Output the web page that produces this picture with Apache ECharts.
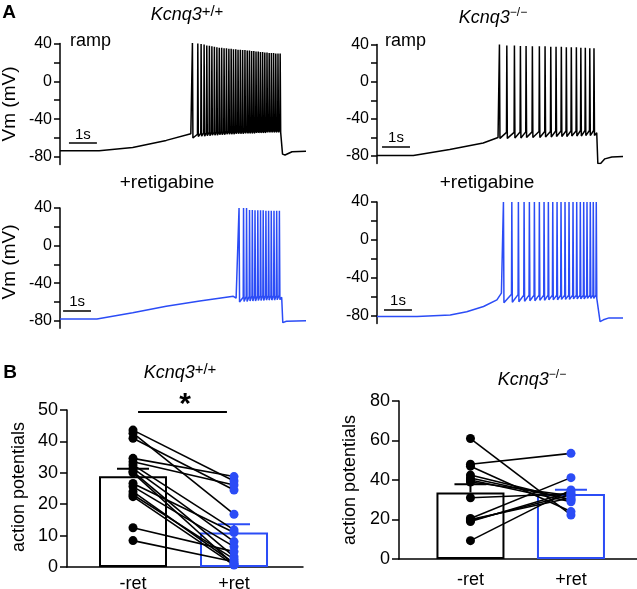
<!DOCTYPE html>
<html><head><meta charset="utf-8">
<script src="https://cdn.jsdelivr.net/npm/echarts@6/dist/echarts.min.js"></script>
<style>html,body{margin:0;padding:0;background:#fff}#c{width:637px;height:589px}</style>
</head><body><div id="c"></div><script>
// ---------- Panel A: membrane potential traces (time in s, Vm in mV) ----------
const aTicks = [-80, -60, -40, -20, 0, 20, 40];
const aLabels = [-80, -40, 0, 40];

// Kcnq3+/+ ramp (black)
const wtRampPre = [[0, -73.5], [1.4, -73.5], [2.6, -70], [3.8, -62.5], [4.68, -55.5]];
const wtRampSpikeT = [4.725, 4.918, 5.036, 5.143, 5.239, 5.332, 5.421, 5.511, 5.6, 5.686, 5.771, 5.857, 5.943, 6.029, 6.111, 6.193, 6.275, 6.357, 6.439, 6.521, 6.604, 6.686, 6.764, 6.843, 6.921, 7.0, 7.079, 7.157, 7.236, 7.314, 7.393, 7.471, 7.55, 7.629, 7.707, 7.786, 7.864];
const wtRampPeak = [40.5, 40, 39.5, 39, 38, 37.5, 37, 36.5, 36, 35.5, 35.5, 35, 35, 34.5, 34.5, 34, 34, 33.5, 33.5, 33, 33, 32.5, 32.5, 32, 32, 31.5, 31.5, 31, 31, 30.5, 30.5, 30, 30, 30, 29.5, 29.5, 29.5];
const wtRampAhp = [-60, -58.5, -58, -58, -57.5, -57.5, -57, -57, -57, -56.5, -56.5, -56.5, -56, -56, -56, -56, -55.5, -55.5, -55.5, -55.5, -55, -55, -55, -55, -55, -54.5, -54.5, -54.5, -54.5, -54.5, -54, -54, -54, -54, -54, -54, -54];
const wtRampThr = [-55.5, -56, -55, -54.5, -54.5, -54, -54, -54, -53.5, -53.5, -53.5, -53.5, -53, -53, -53, -53, -53, -52.5, -52.5, -52.5, -52.5, -52.5, -52.5, -52, -52, -52, -52, -52, -52, -52, -51.5, -51.5, -51.5, -51.5, -51.5, -51.5, -51.5];
const wtRampPost = [[7.93, -53], [7.96, -77], [8.05, -78], [8.3, -74.5], [8.8, -74]];

// Kcnq3-/- ramp (black)
const koRampPre = [[0, -79.5], [1.3, -79.5], [2.6, -73], [3.8, -66], [4.33, -60]];
const koRampSpikeT = [4.368, 4.632, 4.904, 5.118, 5.321, 5.546, 5.796, 6.0, 6.204, 6.393, 6.582, 6.761, 6.939, 7.12, 7.28, 7.44, 7.6, 7.75];
const koRampPeak = [40, 39, 39, 38.5, 38.5, 38, 38, 38, 37.5, 37.5, 37.5, 37, 37, 37, 36.5, 36.5, 36, 36];
const koRampAhp = [-61, -61, -60.5, -60.5, -60, -60, -60, -59.5, -59.5, -59, -59, -59, -58.5, -58.5, -58.5, -58, -58, -58];
const koRampThr = [-59, -54.5, -54.5, -54, -54, -54, -53.5, -53.5, -53.5, -53, -53, -53, -53, -53, -52.5, -52.5, -52.5, -52.5];
const koRampPost = [[7.86, -55], [7.9, -88], [8.0, -88], [8.15, -83], [8.4, -81], [8.8, -80.5]];

// Kcnq3+/+ +retigabine (blue)
const wtRetPre = [[0, -78], [1.32, -78], [2.6, -71.5], [3.8, -64.5], [5.0, -59], [6.2, -54], [6.3, -56], [6.37, -55]];
const wtRetSpikeT = [6.393, 6.554, 6.661, 6.768, 6.868, 6.964, 7.064, 7.161, 7.257, 7.354, 7.45, 7.546, 7.643, 7.739, 7.836];
const wtRetPeak = [40, 40, 40, 38, 38, 37.5, 37.5, 37.5, 37.5, 37, 37, 37, 37, 37, 37];
const wtRetAhp = [-60, -59.5, -59.5, -59, -59, -59, -58.5, -58.5, -58.5, -58, -58, -58, -58, -57.5, -57.5];
const wtRetThr = [-55, -55, -54, -54, -53.5, -53.5, -53.5, -53, -53, -53, -53, -53, -53, -53, -53];
const wtRetPost = [[7.93, -55], [7.97, -82], [8.1, -80.5], [8.8, -80]];

// Kcnq3-/- +retigabine (blue)
const koRetPre = [[0, -80.5], [1.43, -80.5], [2.62, -79], [3.21, -75.5], [3.81, -70], [4.29, -63], [4.45, -56]];
const koRetSpikeT = [4.511, 4.811, 5.046, 5.25, 5.439, 5.618, 5.796, 5.964, 6.118, 6.275, 6.429, 6.571, 6.714, 6.857, 7.0, 7.132, 7.261, 7.382, 7.5, 7.618, 7.725, 7.832];
const koRetPeak = [40, 40, 40, 40, 40, 40, 40, 40, 40, 40, 40, 40, 40, 40, 40, 40, 40, 40, 40, 40, 40, 40];
const koRetAhp = [-66, -65.5, -65, -64.5, -64, -64, -63.5, -63.5, -63, -63, -63, -62.5, -62.5, -62.5, -62, -62, -62, -62, -61.5, -61.5, -61.5, -61.5];
const koRetThr = [-55.5, -57, -57.5, -58, -58, -58, -58, -58, -58, -58, -58, -58, -58, -58, -58, -58, -58, -58, -58, -58, -58, -58];
const koRetPost = [[7.93, -60], [7.98, -86], [8.1, -84], [8.3, -82], [8.8, -82]];

// ---------- Panel B: action potential counts (paired) ----------
const categories = ['-ret', '+ret'];
const wtPre  = [43.6, 42.6, 41.0, 34.6, 33.5, 32.5, 31.4, 30.4, 30.0, 26.6, 25.6, 24.0, 23.0, 22.4, 12.5, 8.4];
const wtPost = [27.4, 16.8, 24.5, 28.8, 26.1, 11.8, 8.1, 3.3, 0.8, 11.0, 6.5, 1.2, 2.5, 0.6, 4.9, 1.7];
const koPre  = [61, 48, 47, 42.5, 41, 40, 39, 31, 20.5, 20, 19.5, 19, 9.3];
const koPost = [22.3, 53.5, 24, 30, 30, 29, 32, 33, 41.2, 31, 32.5, 34, 35];
const wtTicks = [0, 10, 20, 30, 40, 50];
const koTicks = [0, 20, 40, 60, 80];

// ---------- helpers ----------
const FONT = 'Liberation Sans, Arial, Helvetica, sans-serif';
const BLUE = '#2b4cf6';
const SPIKE_UP = 0.012, SPIKE_DOWN = 0.03;

function trace(pre, t, peak, ahp, thr, post) {
  const pts = pre.map(p => p.slice());
  for (let i = 0; i < t.length; i++) {
    pts.push([t[i], thr[i]]);
    pts.push([t[i] + SPIKE_UP, peak[i]]);
    pts.push([t[i] + SPIKE_DOWN, ahp[i]]);
  }
  return pts.concat(post.map(p => p.slice()));
}
const mean = a => a.reduce((s, v) => s + v, 0) / a.length;
const sem = a => { const m = mean(a); return Math.sqrt(a.reduce((s, v) => s + (v - m) * (v - m), 0) / (a.length - 1)) / Math.sqrt(a.length); };

const grids = [
  {left: 60, top: 43.5, width: 246, height: 121},
  {left: 377, top: 44.5, width: 246, height: 119},
  {left: 60, top: 208, width: 246, height: 120.3},
  {left: 377, top: 202, width: 246, height: 121.6},
  {left: 67, top: 410, width: 236, height: 157},
  {left: 399, top: 401, width: 238, height: 158}
].map(g => Object.assign({containLabel: false, outerBoundsMode: 'none'}, g));

const xAxes = [], yAxes = [];
for (let gi = 0; gi < 4; gi++) {
  xAxes.push({type: 'value', gridIndex: gi, min: 0, max: 8.8, show: false});
  yAxes.push({type: 'value', gridIndex: gi, min: -88, max: 40,
    axisLine: {show: true, onZero: false, lineStyle: {color: '#000', width: 1.5}},
    axisTick: {show: true, length: 6, customValues: aTicks, lineStyle: {color: '#000', width: 1.5}},
    axisLabel: {show: true, customValues: aLabels, color: '#000', fontSize: 16, fontFamily: FONT, margin: 8},
    splitLine: {show: false}});
}
const bX = [[-0.6535, 1.683, 8], [-0.711, 1.657, 12]];
const bY = [[0, 50, 10, wtTicks], [0, 80, 20, koTicks]];
for (let k = 0; k < 2; k++) {
  const gi = 4 + k;
  xAxes.push({type: 'value', gridIndex: gi, min: bX[k][0], max: bX[k][1],
    axisLine: {show: true, onZero: false, lineStyle: {color: '#000', width: 1.5}},
    axisTick: {show: false}, splitLine: {show: false},
    axisLabel: {show: true, customValues: [0, 1], formatter: v => categories[Math.round(v)],
      color: '#000', fontSize: 18, fontFamily: FONT, margin: bX[k][2]}});
  yAxes.push({type: 'value', gridIndex: gi, min: bY[k][0], max: bY[k][1], interval: bY[k][2],
    axisLine: {show: true, onZero: false, lineStyle: {color: '#000', width: 1.5}},
    axisTick: {show: true, length: 7, customValues: bY[k][3], lineStyle: {color: '#000', width: 1.5}},
    axisLabel: {show: true, customValues: bY[k][3], color: '#000', fontSize: 18, fontFamily: FONT, margin: 9},
    splitLine: {show: false}});
}

function scaleBar(x0, v) {
  return {silent: true, symbol: ['none', 'none'], animation: false,
    lineStyle: {color: '#000', width: 1.5, type: 'solid'},
    label: {show: true, position: 'insideMiddleTop', formatter: '1s', color: '#000', fontSize: 15, fontFamily: FONT, distance: 1},
    emphasis: {disabled: true},
    data: [[{coord: [x0, v]}, {coord: [x0 + 1, v]}]]};
}

const series = [];
const traces = [
  [trace(wtRampPre, wtRampSpikeT, wtRampPeak, wtRampAhp, wtRampThr, wtRampPost), '#000', [0.32, -65.5]],
  [trace(koRampPre, koRampSpikeT, koRampPeak, koRampAhp, koRampThr, koRampPost), '#000', [0.18, -69.5]],
  [trace(wtRetPre, wtRetSpikeT, wtRetPeak, wtRetAhp, wtRetThr, wtRetPost), BLUE, [0.11, -69]],
  [trace(koRetPre, koRetSpikeT, koRetPeak, koRetAhp, koRetThr, koRetPost), BLUE, [0.25, -73.5]]
];
traces.forEach((tr, gi) => {
  series.push({type: 'line', xAxisIndex: gi, yAxisIndex: gi, data: tr[0], symbol: 'none', showSymbol: false,
    clip: true, animation: false, silent: true, lineStyle: {color: tr[1], width: 1.5}, itemStyle: {color: tr[1]},
    markLine: scaleBar(tr[2][0], tr[2][1])});
});

function bSeries(gi, pre, post, withSig) {
  const bar = {type: 'bar', xAxisIndex: gi, yAxisIndex: gi, barWidth: 68, z: 1, animation: false, silent: true,
    data: [
      {value: [0, mean(pre)], itemStyle: {color: '#fff', borderColor: '#000', borderWidth: 2}},
      {value: [1, mean(post)], itemStyle: {color: '#fff', borderColor: BLUE, borderWidth: 2}}
    ]};
  if (withSig) {
    bar.markLine = {silent: true, symbol: ['none', 'none'], animation: false,
      lineStyle: {color: '#000', width: 2, type: 'solid'}, label: {show: false}, emphasis: {disabled: true},
      data: [[{coord: [0.05, 49.5]}, {coord: [0.93, 49.5]}]]};
  }
  series.push(bar);
  series.push({type: 'custom', xAxisIndex: gi, yAxisIndex: gi, z: 2, silent: true, animation: false,
    encode: {x: 0, y: 1},
    data: [[0, mean(pre), sem(pre), 0], [1, mean(post), sem(post), 1]],
    renderItem: (params, api) => {
      const x = api.value(0), m = api.value(1), s = api.value(2);
      const col = api.value(3) ? BLUE : '#000';
      const a = api.coord([x, m]), b = api.coord([x, m + s]);
      return {type: 'group', children: [
        {type: 'line', shape: {x1: a[0], y1: a[1], x2: b[0], y2: b[1]}, style: {stroke: col, lineWidth: 2}},
        {type: 'line', shape: {x1: b[0] - 16, y1: b[1], x2: b[0] + 16, y2: b[1]}, style: {stroke: col, lineWidth: 2}}
      ]};
    }});
  pre.forEach((v, i) => {
    series.push({type: 'line', xAxisIndex: gi, yAxisIndex: gi, z: 3, symbol: 'none', silent: true, animation: false,
      data: [[0, v], [1, post[i]]], lineStyle: {color: '#000', width: 1.6}});
  });
  series.push({type: 'scatter', xAxisIndex: gi, yAxisIndex: gi, z: 4, symbolSize: 9, silent: true, animation: false,
    data: pre.map(v => [0, v]), itemStyle: {color: '#000', opacity: 1}});
  series.push({type: 'scatter', xAxisIndex: gi, yAxisIndex: gi, z: 4, symbolSize: 9, silent: true, animation: false,
    data: post.map(v => [1, v]), itemStyle: {color: BLUE, opacity: 1}});
}
bSeries(4, wtPre, wtPost, true);
bSeries(5, koPre, koPost, false);

function txt(x, y, text, size, extra) {
  return Object.assign({type: 'text', x: x, y: y, silent: true,
    style: Object.assign({text: text, fontSize: size, fontFamily: FONT, fill: '#000', align: 'center', verticalAlign: 'middle'}, extra || {})});
}
function gene(x, y, sup, size, supSize) {
  return {type: 'text', x: x, y: y, silent: true,
    style: {text: '{i|Kcnq3}{s|' + sup + '}', align: 'center', verticalAlign: 'middle', fill: '#000',
      rich: {
        i: {fontSize: size, fontStyle: 'italic', fontFamily: FONT, lineHeight: size + 2, verticalAlign: 'bottom', fill: '#000'},
        s: {fontSize: supSize, fontFamily: FONT, lineHeight: supSize, verticalAlign: 'top', fill: '#000'}
      }}};
}
function rot(x, y, text, size) {
  return {type: 'text', x: x, y: y, rotation: Math.PI / 2, silent: true,
    style: {text: text, fontSize: size, fontFamily: FONT, fill: '#000', align: 'center', verticalAlign: 'middle'}};
}

const graphic = [
  txt(9, 13, 'A', 19, {fontWeight: 'bold'}),
  txt(10, 373, 'B', 19, {fontWeight: 'bold'}),
  gene(187, 14, '+/+', 18, 15),
  gene(493, 17, '\u2212/\u2212', 18, 12),
  gene(180, 372, '+/+', 18, 15),
  gene(532, 379, '\u2212/\u2212', 18, 12),
  txt(70, 41, 'ramp', 18, {align: 'left'}),
  txt(385, 41, 'ramp', 18, {align: 'left'}),
  txt(167, 183, '+retigabine', 19),
  txt(487, 183, '+retigabine', 19),
  rot(10, 104, 'Vm (mV)', 19),
  rot(10, 262, 'Vm (mV)', 19),
  rot(19, 487, 'action potentials', 18),
  rot(350, 480, 'action potentials', 18),
  txt(185, 405, '*', 30, {fontWeight: 'bold'})
];

const chart = echarts.init(document.getElementById('c'), null, {renderer: 'canvas', width: 637, height: 589});
chart.setOption({
  backgroundColor: '#fff',
  animation: false,
  grid: grids,
  xAxis: xAxes,
  yAxis: yAxes,
  series: series,
  graphic: graphic
});
</script></body></html>
